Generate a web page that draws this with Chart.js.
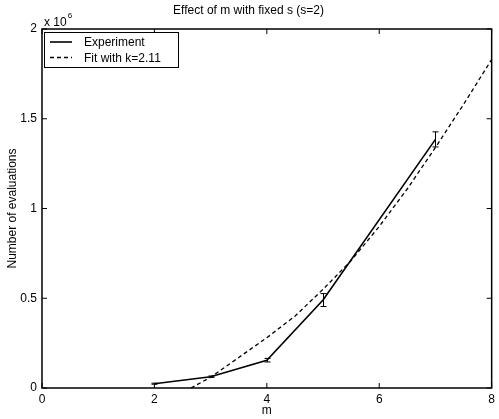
<!DOCTYPE html>
<html>
<head>
<meta charset="utf-8">
<script src="https://cdn.jsdelivr.net/npm/chart.js@4.4.0/dist/chart.umd.min.js"></script>
<style>
  html, body { margin: 0; padding: 0; background: #fff; }
  #wrap { width: 499px; height: 419px; }
</style>
</head>
<body>
<div id="wrap"><canvas id="chart" width="499" height="419"></canvas></div>
<script>
// values
const mValues = [2, 3, 4, 5, 7];
const evaluations = [0.024e6, 0.063e6, 0.155e6, 0.49e6, 1.385e6];
const evalErrors = [0.003e6, 0.004e6, 0.01e6, 0.036e6, 0.042e6];
const fitM = [2.65, 3, 3.5, 4, 4.5, 5, 5.5, 6, 6.5, 7, 7.5, 8];
const fitEvaluations = [0, 0.06e6, 0.17e6, 0.28e6, 0.4e6, 0.55e6, 0.71e6, 0.9e6, 1.11e6, 1.34e6, 1.58e6, 1.83e6];
const xTicks = [0, 2, 4, 6, 8];
const yTicks = [0, 0.5e6, 1e6, 1.5e6, 2e6];

const FONT = "'Liberation Sans', Arial, Helvetica, sans-serif";

function toPoints(xs, ys) {
  return xs.map((x, i) => ({ x: x, y: ys[i] }));
}

// box, inward ticks, error bars, legend and the exponent label
const matlabDecor = {
  id: "matlabDecor",
  afterDatasetsDraw(chart) {
    const ctx = chart.ctx;
    const area = chart.chartArea;
    const xs = chart.scales.x;
    const ys = chart.scales.y;
    const tick = 5;

    ctx.save();
    ctx.strokeStyle = "#000";

    // error bars
    ctx.lineWidth = 1;
    mValues.forEach((m, i) => {
      const px = Math.round(xs.getPixelForValue(m)) + 0.5;
      const top = ys.getPixelForValue(evaluations[i] + evalErrors[i]);
      const bot = ys.getPixelForValue(evaluations[i] - evalErrors[i]);
      ctx.beginPath();
      ctx.moveTo(px, top);
      ctx.lineTo(px, bot);
      ctx.moveTo(px - 3, top);
      ctx.lineTo(px + 3, top);
      ctx.moveTo(px - 3, bot);
      ctx.lineTo(px + 3, bot);
      ctx.stroke();
    });

    // axes box
    ctx.lineWidth = 1.5;
    ctx.strokeRect(area.left, area.top, area.right - area.left, area.bottom - area.top);

    ctx.lineWidth = 1;
    ctx.beginPath();
    xTicks.forEach((v) => {
      const px = xs.getPixelForValue(v);
      ctx.moveTo(px, area.bottom);
      ctx.lineTo(px, area.bottom - tick);
      ctx.moveTo(px, area.top);
      ctx.lineTo(px, area.top + tick);
    });
    yTicks.forEach((v) => {
      const py = ys.getPixelForValue(v);
      ctx.moveTo(area.left, py);
      ctx.lineTo(area.left + tick, py);
      ctx.moveTo(area.right, py);
      ctx.lineTo(area.right - tick, py);
    });
    ctx.stroke();

    // exponent label
    ctx.fillStyle = "#000";
    ctx.font = "12px " + FONT;
    ctx.textAlign = "left";
    ctx.textBaseline = "middle";
    ctx.fillText("x 10", area.left + 2, area.top - 6);
    const w = ctx.measureText("x 10").width;
    ctx.font = "8px " + FONT;
    ctx.fillText("6", area.left + 3 + w, area.top - 13);

    // legend
    const lx = area.left + 2;
    const ly = area.top + 3;
    const lw = 134;
    const lh = 35;
    ctx.fillStyle = "#fff";
    ctx.fillRect(lx, ly, lw, lh);
    ctx.lineWidth = 1;
    ctx.strokeRect(lx + 0.5, ly + 0.5, lw, lh);
    ctx.font = "12px " + FONT;
    ctx.fillStyle = "#000";
    chart.data.datasets.forEach((ds, i) => {
      const rowY = ly + 10 + i * 15.5;
      ctx.beginPath();
      ctx.lineWidth = ds.borderWidth;
      ctx.setLineDash(ds.borderDash || []);
      ctx.moveTo(lx + 6, rowY);
      ctx.lineTo(lx + 28, rowY);
      ctx.stroke();
      ctx.setLineDash([]);
      ctx.fillText(ds.label, lx + 40, rowY + 1);
    });
    ctx.restore();
  },
};

const config = {
  type: "line",
  data: {
    datasets: [
      {
        label: "Experiment",
        data: toPoints(mValues, evaluations),
        borderColor: "#000",
        borderWidth: 1.6,
        pointRadius: 0,
        tension: 0,
        fill: false,
      },
      {
        label: "Fit with k=2.11",
        data: toPoints(fitM, fitEvaluations),
        borderColor: "#000",
        borderWidth: 1.3,
        borderDash: [4, 3],
        pointRadius: 0,
        tension: 0,
        fill: false,
      },
    ],
  },
  options: {
    responsive: false,
    animation: false,
    devicePixelRatio: 1,
    clip: 1,
    layout: { padding: { top: 0, right: 2, left: 0, bottom: 0 } },
    plugins: {
      legend: { display: false },
      tooltip: { enabled: false },
      title: {
        display: true,
        text: "Effect of m with fixed s (s=2)",
        color: "#000",
        font: { family: FONT, size: 12, weight: "normal" },
        padding: { top: 3, bottom: 11.6 },
      },
    },
    scales: {
      x: {
        type: "linear",
        min: 0,
        max: 8,
        afterBuildTicks: (s) => {
          s.ticks = xTicks.map((v) => ({ value: v }));
        },
        afterFit: (s) => {
          s.height = 31;
        },
        grid: { display: false, drawTicks: false },
        border: { display: false },
        ticks: {
          color: "#000",
          font: { family: FONT, size: 12 },
          padding: 4,
          maxRotation: 0,
          callback: (v) => String(v),
        },
        title: {
          display: true,
          text: "m",
          color: "#000",
          font: { family: FONT, size: 12 },
          padding: { top: 0, bottom: 1 },
        },
      },
      y: {
        type: "linear",
        min: 0,
        max: 2e6,
        afterBuildTicks: (s) => {
          s.ticks = yTicks.map((v) => ({ value: v }));
        },
        afterFit: (s) => {
          s.width = 42;
        },
        grid: { display: false, drawTicks: false },
        border: { display: false },
        ticks: {
          color: "#000",
          font: { family: FONT, size: 12 },
          padding: 5,
          callback: (v) => String(v / 1e6),
        },
        title: {
          display: true,
          text: "Number of evaluations",
          color: "#000",
          font: { family: FONT, size: 12 },
          padding: { top: 5, bottom: 0 },
        },
      },
    },
  },
  plugins: [matlabDecor],
};

const chart = new Chart(document.getElementById("chart"), config);
</script>
</body>
</html>
